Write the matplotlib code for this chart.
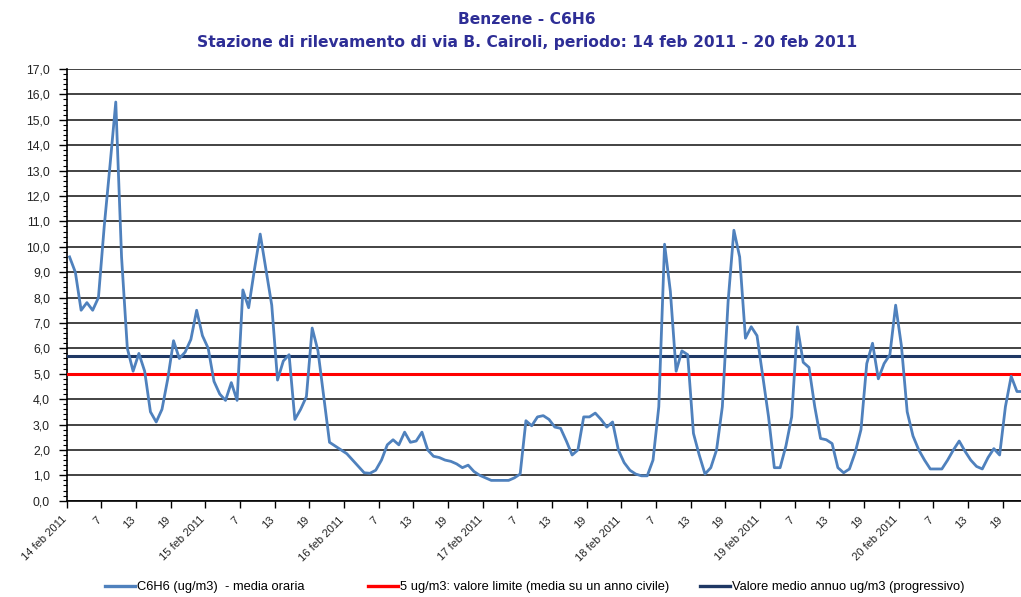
import matplotlib
matplotlib.use('Agg')
import matplotlib.pyplot as plt
from matplotlib.ticker import MultipleLocator
import matplotlib.transforms as mtransforms
import numpy as np

# hourly benzene values, 14 feb 2011 01:00 onwards (ug/m3)
c6h6 = [
    9.6, 9.0, 7.5, 7.8, 7.5, 8.0, 10.8, 13.2, 15.7, 9.6, 6.0, 5.1,
    5.8, 5.1, 3.5, 3.1, 3.6, 4.8, 6.3, 5.6, 5.85, 6.35, 7.5, 6.5,
    6.0, 4.7, 4.2, 3.95, 4.65, 3.95, 8.3, 7.6, 9.1, 10.5, 9.1, 7.7,
    4.75, 5.5, 5.75, 3.2, 3.6, 4.1, 6.8, 5.9, 4.1, 2.3, 2.15, 2.0,
    1.85, 1.6, 1.35, 1.1, 1.08, 1.2, 1.6, 2.2, 2.4, 2.2, 2.7, 2.3,
    2.35, 2.7, 2.0, 1.75, 1.7, 1.6, 1.55, 1.45, 1.3, 1.4, 1.15, 1.0,
    0.9, 0.8, 0.8, 0.8, 0.8, 0.9, 1.05, 3.15, 2.95, 3.3, 3.35, 3.2,
    2.9, 2.85, 2.35, 1.8, 2.0, 3.3, 3.3, 3.45, 3.2, 2.9, 3.1, 2.0,
    1.5, 1.2, 1.05, 0.98, 0.98, 1.6, 3.7, 10.1, 8.25, 5.1, 5.9, 5.75,
    2.65, 1.8, 1.05, 1.3, 2.0, 3.7, 7.85, 10.65, 9.6, 6.4, 6.85, 6.5,
    4.9, 3.3, 1.3, 1.3, 2.15, 3.3, 6.85, 5.45, 5.25, 3.7, 2.45, 2.4,
    2.25, 1.3, 1.1, 1.25, 1.9, 2.8, 5.4, 6.2, 4.8, 5.4, 5.75, 7.7,
    6.1, 3.5, 2.55, 2.0, 1.6, 1.25, 1.25, 1.25, 1.6, 2.0, 2.35, 1.95,
    1.6, 1.35, 1.25, 1.7, 2.05, 1.8, 3.7, 4.9, 4.3, 4.3,
]
limite = 5.0
media_annua = 5.7

days = ['14 feb 2011', '15 feb 2011', '16 feb 2011', '17 feb 2011',
        '18 feb 2011', '19 feb 2011', '20 feb 2011']
hours = ['7', '13', '19']

xlabels = []
for d in days:
    xlabels += [d] + hours

blue = '#4F81BD'
navy = '#1F3864'
title_col = '#2E2E96'
txt = '#222222'

fig = plt.figure(figsize=(10.21, 5.97), dpi=100)
ax = fig.add_axes([0.0653, 0.1613, 0.9347, 0.7231])

x = np.arange(len(c6h6)) + 0.5
ax.axhline(media_annua, color=navy, lw=2.2, zorder=3)
ax.axhline(limite, color='#FF0000', lw=2.2, zorder=3)
ax.plot(x, c6h6, color=blue, lw=2.0, zorder=4)

ax.set_xlim(0, 165.2)
ax.set_ylim(0, 17)
ax.set_yticks(range(18))
ax.set_yticklabels([f'{v},0' for v in range(18)], fontsize=8.8,
                   family='Liberation Sans', color=txt)
ax.yaxis.set_minor_locator(MultipleLocator(0.2))
ax.tick_params(axis='y', which='major', length=6, width=1, direction='out', pad=6)
ax.tick_params(axis='y', which='minor', length=3, width=0.8, direction='out')

ax.set_xticks(np.arange(0, 6 * len(xlabels), 6))
ax.set_xticklabels(xlabels, rotation=45, ha='right', va='top',
                   rotation_mode='anchor', fontsize=8,
                   family='Liberation Sans', color=txt)
ax.tick_params(axis='x', length=5, width=1, direction='out', pad=5)
shift = mtransforms.ScaledTranslation(-4 / 72, 0, fig.dpi_scale_trans)
for lab in ax.get_xticklabels():
    lab.set_transform(lab.get_transform() + shift)

ax.yaxis.grid(True, color=txt, lw=1.2)
ax.set_axisbelow(True)
for s in ['top', 'right']:
    ax.spines[s].set_visible(False)
ax.spines['left'].set_linewidth(1.2)
ax.spines['bottom'].set_linewidth(1.2)

fig.text(0.516, 0.968, 'Benzene - C6H6', ha='center', va='center',
         fontsize=11.2, fontweight='bold', color=title_col)
fig.text(0.516, 0.928,
         'Stazione di rilevamento di via B. Cairoli, periodo: 14 feb 2011 - 20 feb 2011',
         ha='center', va='center', fontsize=11.2, fontweight='bold', color=title_col)

series = [
    (blue, 'C6H6 (ug/m3)  - media oraria', 105),
    ('#FF0000', '5 ug/m3: valore limite (media su un anno civile)', 368),
    (navy, 'Valore medio annuo ug/m3 (progressivo)', 700),
]
for col, lab, xpos in series:
    h = plt.Line2D([], [], color=col, lw=2.4)
    leg = fig.legend([h], [lab], loc='center left',
                     bbox_to_anchor=(xpos / 1021, 0.016),
                     frameon=False, prop={'family': 'Liberation Sans', 'size': 9.3},
                     handlelength=2.3, handletextpad=0.15, borderpad=0,
                     borderaxespad=0)

fig.savefig('out.png', dpi=100)
